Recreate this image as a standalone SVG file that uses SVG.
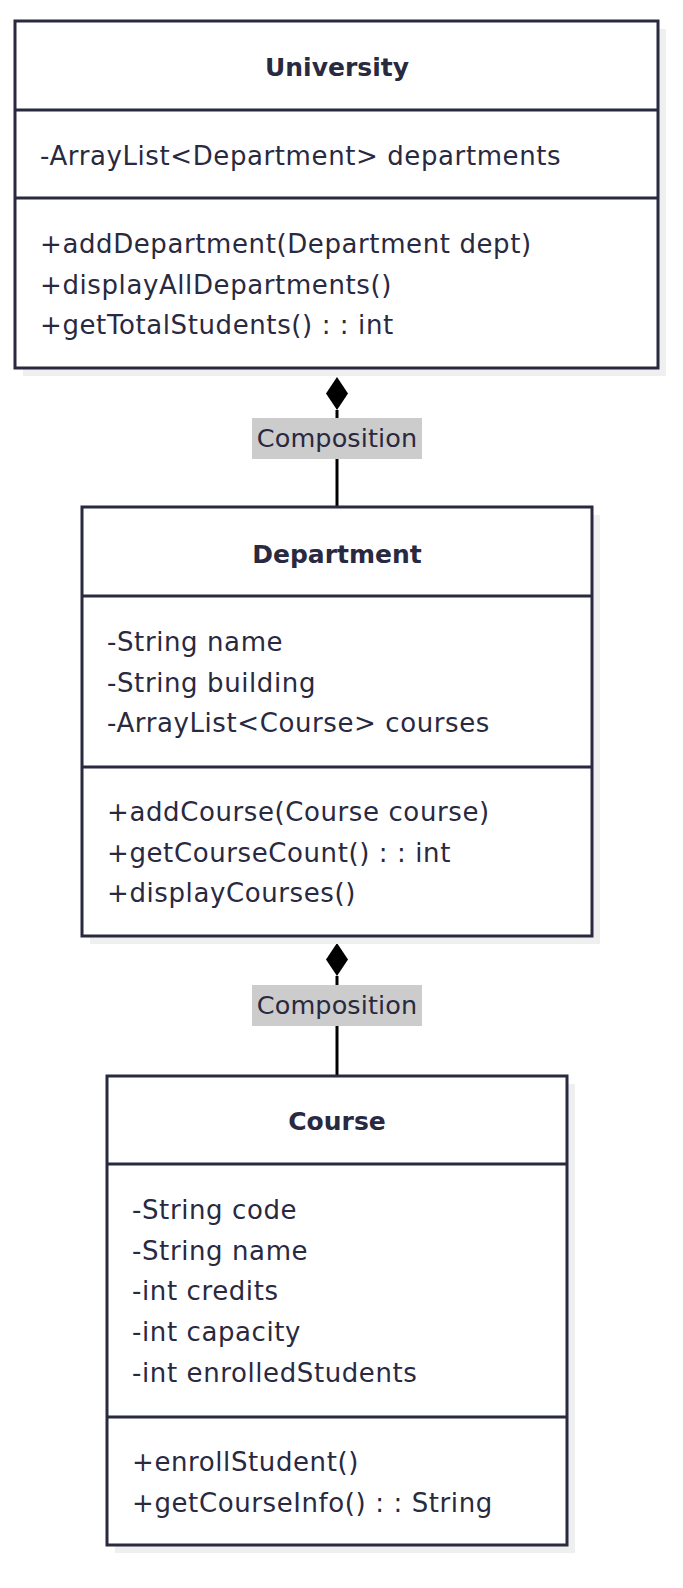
<svg xmlns="http://www.w3.org/2000/svg" width="683" height="1588" viewBox="0 0 683 1588">
<style>
.shadow{fill:#efefef}
.box{fill:#ffffff;stroke:#29293f;stroke-width:3}
.div{stroke:#29293f;stroke-width:3}
.t{font-family:"DejaVu Sans",sans-serif;font-size:26px;letter-spacing:0.6px;fill:#29293f}
.title{font-weight:bold;text-anchor:middle;font-size:25px;letter-spacing:0}
.edge{stroke:#000;stroke-width:3;fill:none}
.lblbg{fill:#cccccc}
.lbl{font-family:"DejaVu Sans",sans-serif;font-size:25.5px;letter-spacing:0.1px;fill:#29293f;text-anchor:middle}
</style>
<g id="connectors">
<g id="edge-university-department">
<line class="edge" x1="337" y1="410" x2="337" y2="507"/>
<path d="M337,377 L348,393.5 L337,410 L326,393.5 Z" fill="#000"/>
<rect class="lblbg" x="252" y="418" width="170" height="41"/>
<text class="lbl" x="337" y="447">Composition</text>
</g>
<g id="edge-department-course">
<line class="edge" x1="337" y1="976" x2="337" y2="1076"/>
<path d="M337,943 L348,959.5 L337,976 L326,959.5 Z" fill="#000"/>
<rect class="lblbg" x="252" y="985" width="170" height="41"/>
<text class="lbl" x="337" y="1014">Composition</text>
</g>
</g>
<g id="University">
<rect class="shadow" x="23" y="29" width="643" height="347"/>
<rect class="box" x="15" y="21" width="643" height="347"/>
<line class="div" x1="15" y1="110" x2="658" y2="110"/>
<line class="div" x1="15" y1="198" x2="658" y2="198"/>
<text class="t title" x="337" y="76">University</text>
<text class="t" x="40" y="165">-ArrayList&lt;Department&gt; departments</text>
<text class="t" x="40" y="253">+addDepartment(Department dept)</text>
<text class="t" x="40" y="294">+displayAllDepartments()</text>
<text class="t" x="40" y="334">+getTotalStudents() : : int</text>
</g>
<g id="Department">
<rect class="shadow" x="90" y="515" width="510" height="429"/>
<rect class="box" x="82" y="507" width="510" height="429"/>
<line class="div" x1="82" y1="596" x2="592" y2="596"/>
<line class="div" x1="82" y1="767" x2="592" y2="767"/>
<text class="t title" x="337" y="563">Department</text>
<text class="t" x="107" y="651">-String name</text>
<text class="t" x="107" y="692">-String building</text>
<text class="t" x="107" y="732">-ArrayList&lt;Course&gt; courses</text>
<text class="t" x="107" y="821">+addCourse(Course course)</text>
<text class="t" x="107" y="862">+getCourseCount() : : int</text>
<text class="t" x="107" y="902">+displayCourses()</text>
</g>
<g id="Course">
<rect class="shadow" x="115" y="1084" width="460" height="469"/>
<rect class="box" x="107" y="1076" width="460" height="469"/>
<line class="div" x1="107" y1="1164" x2="567" y2="1164"/>
<line class="div" x1="107" y1="1417" x2="567" y2="1417"/>
<text class="t title" x="337" y="1130">Course</text>
<text class="t" x="132" y="1219">-String code</text>
<text class="t" x="132" y="1260">-String name</text>
<text class="t" x="132" y="1300">-int credits</text>
<text class="t" x="132" y="1341">-int capacity</text>
<text class="t" x="132" y="1382">-int enrolledStudents</text>
<text class="t" x="132" y="1471">+enrollStudent()</text>
<text class="t" x="132" y="1512">+getCourseInfo() : : String</text>
</g>
</svg>
